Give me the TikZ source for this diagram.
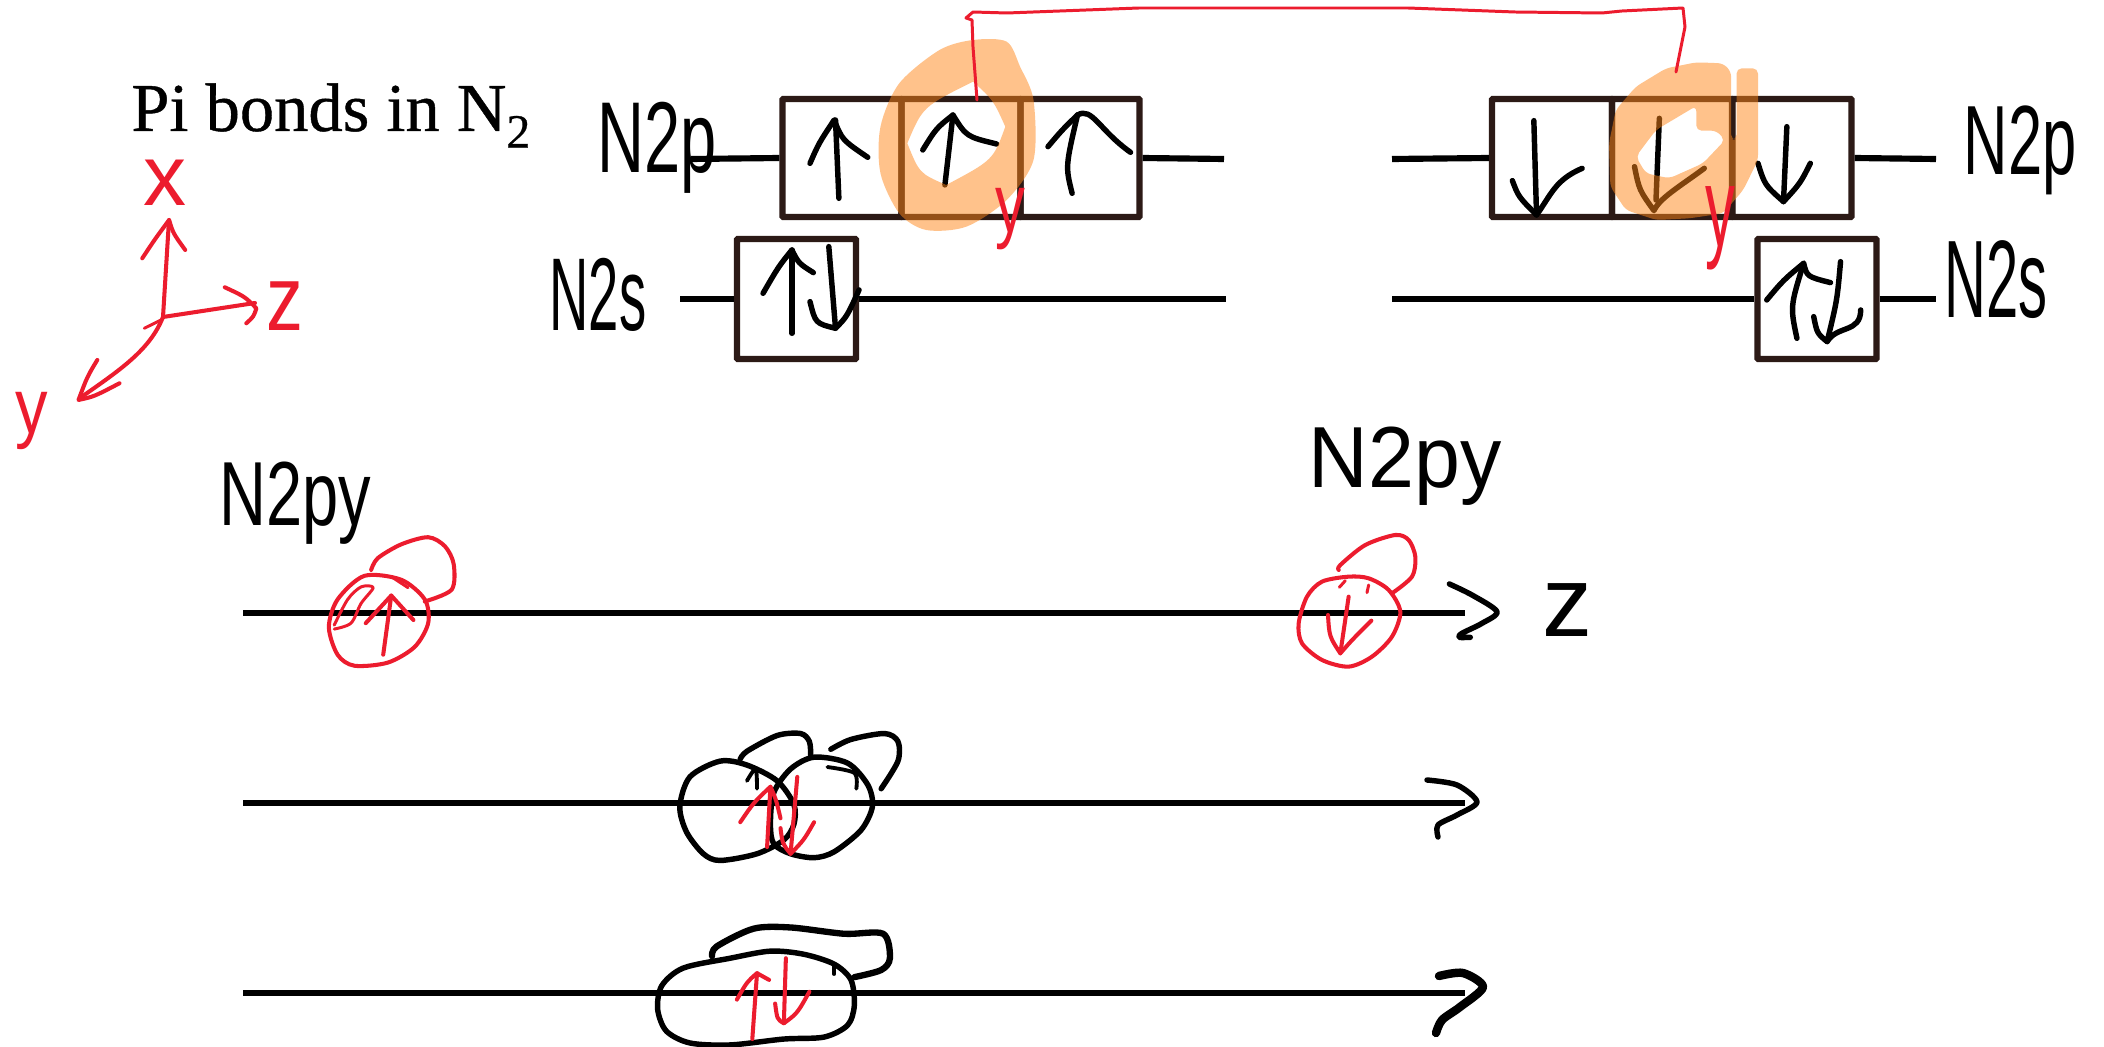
\documentclass[tikz,border=0pt]{standalone}
\usepackage{fontspec}
\setmainfont{Liberation Serif}
\newfontfamily\titlefont[FakeBold=0.6]{Liberation Serif}
\newfontfamily\handfont{Liberation Sans}
\definecolor{inkred}{HTML}{EC1C2E}
\definecolor{boxline}{HTML}{2C1A16}
\definecolor{hilite}{HTML}{FF8719}
\begin{document}
\begin{tikzpicture}[x=0.02cm,y=-0.02cm,
  orbbox/.style={draw=boxline,line width=3.6pt,rectangle,inner sep=0pt,rounded corners=0.5pt},
  level/.style={line width=3.5pt,black},
  hand/.style={line width=3.1pt,black,line cap=round,line join=round},
  handthin/.style={line width=2.2pt,black,line cap=round,line join=round},
  redthin/.style={line width=1.7pt,inkred,line cap=round,line join=round},
  redmid/.style={line width=2.3pt,inkred,line cap=round,line join=round},
  lab/.style={inner sep=0pt,font=\handfont\fontsize{#1}{#1}\selectfont},
  redlab/.style={lab=#1,text=inkred},
  zA/.style={xscale=0.6711,yscale=0.3333},
  zB/.style={shift={(1052,0)},xscale=0.6711,yscale=0.3333},
  zC/.style={shift={(200,430)},xscale=0.6711,yscale=0.3942},
  zD/.style={shift={(1252,430)},xscale=0.3333,yscale=0.3333},
  hilitefill/.style={fill=hilite,fill opacity=0.5,even odd rule},
]
\useasboundingbox (0,0) rectangle (2104,1047);
\fill[white] (0,0) rectangle (2104,1047);

% title
\node[inner sep=0pt,anchor=base west,font=\titlefont\fontsize{39}{39}\selectfont] (title) at (131,131) {Pi bonds in N\textsubscript{2}};

% level end points
\coordinate (lt1) at (691,159);
\coordinate (lt2) at (1224,159);
\coordinate (ls1) at (680,299);
\coordinate (ls2) at (1226,299);
\coordinate (rt1) at (1392,159);
\coordinate (rt2) at (1936,159);
\coordinate (rs1) at (1392,299);
\coordinate (rs2) at (1936,299);

% orbital boxes
\node[orbbox,minimum width=119*0.02cm,minimum height=118*0.02cm] (pa) at (842,158) {};
\node[orbbox,minimum width=119*0.02cm,minimum height=118*0.02cm] (pb) at (961,158) {};
\node[orbbox,minimum width=119*0.02cm,minimum height=118*0.02cm] (pc) at (1080,158) {};
\node[orbbox,minimum width=119*0.02cm,minimum height=120*0.02cm] (sa) at (796.5,299) {};
\node[orbbox,minimum width=120*0.02cm,minimum height=118*0.02cm] (qa) at (1552,158) {};
\node[orbbox,minimum width=120*0.02cm,minimum height=118*0.02cm] (qb) at (1672,158) {};
\node[orbbox,minimum width=119*0.02cm,minimum height=118*0.02cm] (qc) at (1792,158) {};
\node[orbbox,minimum width=119*0.02cm,minimum height=120*0.02cm] (sb) at (1817,299) {};

\draw[level] (lt1) -- (pa.west);
\draw[level] (pc.east) -- (lt2);
\draw[level] (ls1) -- (sa.west);
\draw[level] (sa.east) -- (ls2);
\draw[level] (rt1) -- (qa.west);
\draw[level] (qc.east) -- (rt2);
\draw[level] (rs1) -- (sb.west);
\draw[level] (sb.east) -- (rs2);

% electrons in boxes
\begin{scope}[zA]
\draw[hand] (1250,595) -- (1245,360);
\draw[hand] (1207,490) .. controls (1220,430) .. (1243,360) .. controls (1255,420) .. (1293,472);
\draw[hand] (1408,555) -- (1420,345);
\draw[hand] (1375,450) .. controls (1395,385) .. (1420,345) .. controls (1440,410) .. (1485,432);
\draw[hand] (1180,1000) -- (1180,750);
\draw[hand] (1137,880) .. controls (1160,800) .. (1180,750) .. controls (1190,790) .. (1212,818);
\draw[hand] (1235,740) -- (1245,985);
\draw[hand] (1207,905) .. controls (1215,970) .. (1245,985) .. controls (1262,950) .. (1280,870);
\end{scope}
\begin{scope}[zB]
\draw[hand] (30,580) .. controls (20,500) .. (38,345);
\draw[hand] (-6,440) .. controls (15,390) .. (38,345);
\draw[hand] (38,345) .. controls (60,320) and (70,390) .. (117,457);
\draw[hand] (718,362) -- (722,645);
\draw[hand] (686,542) .. controls (695,590) .. (722,645) .. controls (745,580) and (750,540) .. (790,505);
\draw[hand] (905,355) -- (900,600);
\draw[hand] (868,500) .. controls (875,570) .. (897,632) .. controls (905,595) and (935,560) .. (972,505);
\draw[hand] (1095,380) -- (1090,605);
\draw[hand] (1052,490) .. controls (1062,555) .. (1090,605) .. controls (1115,550) .. (1130,490);
\draw[hand] (1110,1015) .. controls (1100,920) .. (1120,790);
\draw[hand] (1065,900) .. controls (1090,840) .. (1120,790) .. controls (1125,830) .. (1160,848);
\draw[hand] (1175,785) .. controls (1170,900) .. (1155,1025) .. controls (1140,1000) .. (1135,950);
\draw[hand] (1155,1025) .. controls (1170,975) and (1205,1000) .. (1205,930);
\end{scope}

% highlights
\begin{scope}[zA]
\fill[hilitefill] plot[smooth cycle] coordinates {(1450,120) (1500,125) (1520,200) (1540,300) (1540,480) (1500,600) (1440,680) (1380,690) (1340,640) (1312,520) (1312,380) (1340,250) (1400,150)}
 (1450,245) .. controls (1480,300) .. (1498,380) .. controls (1480,480) .. (1410,555) .. controls (1370,520) .. (1352,430) .. controls (1375,320) .. (1450,245) -- cycle;
\end{scope}
\begin{scope}[zB]
\fill[hilitefill,rounded corners=3pt] (960,187) -- (1000,190) -- (1012,215) -- (1012,420) -- (1020,420) -- (1020,205) -- (1052,205) -- (1052,480) -- (1030,570) -- (1000,640) -- (950,655) -- (900,660) -- (855,630) -- (832,560) -- (830,430) -- (840,330) -- (870,260) -- (915,205) -- cycle
 (960,318) -- (960,392) -- (990,392) -- (1003,420) -- (970,490) -- (920,535) -- (885,520) -- (870,470) -- (900,390) -- cycle;
\end{scope}

% bracket joining the two highlighted orbitals
\coordinate (bl) at (977,100);
\coordinate (br) at (1676,72);
\draw[redthin] (bl) -- (973,47) -- (972,20) -- (966,18) -- (973,12) -- (1007,13) -- (1139,8) -- (1408,8) -- (1515,12) -- (1602,13) -- (1622,11) -- (1683,8) -- (1685,27) -- (br);

% level labels
\node[lab=37,yscale=1.55] (n2p1) at (657,148) {N2p};
\node[lab=31,yscale=1.9] (n2s1) at (598,295) {N2s};
\node[lab=35,yscale=1.6] (n2p2) at (2020,150) {N2p};
\node[lab=33,yscale=1.9] (n2s2) at (1996,280) {N2s};
\node[redlab=34,yscale=1.4] (yl) at (1010,219) {y};
\node[redlab=34,yscale=1.9] (yr) at (1720,228) {y};

% axes
\coordinate (o) at (163,317);
\coordinate (ax) at (169,220);
\coordinate (az) at (255,303);
\coordinate (ay) at (80,398);
\draw[redmid] (o) -- (ax);
\draw[redmid] (o) -- (az);
\draw[redmid] (o) .. controls (150,350) and (120,370) .. (ay);
\begin{scope}[zA]
\draw[redmid] (212,775) .. controls (230,720) .. (252,660) .. controls (258,700) .. (276,750);
\draw[redmid] (335,862) .. controls (365,890) .. (382,925) .. controls (378,950) .. (367,970);
\draw[redmid] (145,1080) .. controls (130,1130) .. (117,1200) .. controls (140,1190) .. (178,1150);
\draw[redthin] (215,985) -- (240,960);
\end{scope}
\node[redlab=49] (lx) at (165,183) {x};
\node[redlab=42,yscale=1.25] (lz) at (285,306) {z};
\node[redlab=37,yscale=1.2] (ly) at (32,421) {y};

% molecular axes
\coordinate (a1s) at (243,613);
\coordinate (a1e) at (1465,613);
\coordinate (a2s) at (243,803);
\coordinate (a2e) at (1465,803);
\coordinate (a3s) at (243,993);
\coordinate (a3e) at (1465,993);
\draw[level] (a1s) -- (a1e);
\draw[level] (a2s) -- (a2e);
\draw[level] (a3s) -- (a3e);

\node[lab=37,yscale=1.4] (l1) at (295,503) {N2py};
\node[lab=47,yscale=1.05] (l2) at (1405,466) {N2py};
\node[lab=57] (l3) at (1568,610) {z};

% first orbital, left
\begin{scope}[zC]
\draw[redmid] plot[smooth cycle] coordinates {(245,370) (300,380) (335,430) (340,490) (320,550) (280,590) (230,598) (205,570) (192,500) (205,430)};
\draw[redmid] plot[smooth] coordinates {(255,355) (265,325) (300,290) (340,272) (365,295) (378,340) (375,405) (335,435)};
\draw[redmid] (273,570) -- (285,420);
\draw[redmid] (247,490) -- (285,420) -- (318,482);
\draw[redthin] plot[smooth] coordinates {(200,505) (225,490) (240,440) (258,400) (240,398) (220,430) (200,495)};
\draw[redthin] (285,372) -- (310,400);
\end{scope}
% first orbital, right, and z tip
\begin{scope}[zD]
\draw[redmid] plot[smooth cycle] coordinates {(290,440) (350,445) (410,480) (445,545) (420,620) (360,680) (290,710) (210,690) (150,640) (140,580) (165,500) (210,455)};
\draw[redmid] plot[smooth] coordinates {(260,420) (265,405) (340,345) (430,315) (470,330) (490,380) (480,440) (420,490)};
\draw[redmid] (290,500) -- (265,670);
\draw[redmid] (228,555) .. controls (232,620) .. (265,670) .. controls (300,630) .. (358,572);
\draw[redthin] (262,472) -- (280,452);
\draw[redthin] (345,488) -- (350,465);
\draw[hand] plot[smooth] coordinates {(592,462) (660,495) (735,545) (690,580) (630,610) (622,622) (655,622)};
\end{scope}

% second orbital pair
\begin{scope}[zC]
\draw[hand] plot[smooth cycle] coordinates {(775,840) (815,850) (860,890) (885,950) (885,1000) (870,1040) (830,1075) (775,1092) (750,1075) (725,1020) (715,955) (730,880)};
\draw[hand] plot[smooth cycle] coordinates {(915,830) (965,845) (995,900) (1002,955) (985,1015) (945,1070) (915,1085) (880,1075) (855,1050) (850,1000) (855,920) (880,860)};
\draw[hand] plot[smooth] coordinates {(805,835) (815,815) (860,775) (895,770) (908,790) (910,825)};
\draw[hand] plot[smooth] coordinates {(940,810) (970,785) (1020,770) (1040,790) (1040,840) (1015,910)};
\draw[handthin] plot[smooth] coordinates {(935,855) (975,870) (978,910)};
\draw[handthin] plot[smooth] coordinates {(815,890) (828,860) (830,910)};
\draw[redmid] (845,1058) -- (850,905);
\draw[redmid] (805,995) .. controls (825,945) .. (850,905) .. controls (858,935) .. (865,985);
\draw[redmid] (890,880) -- (880,1075);
\draw[redmid] (865,1010) .. controls (868,1050) .. (880,1075) .. controls (900,1040) .. (915,995);
% third, merged orbital
\draw[hand] plot[smooth cycle] coordinates {(850,1322) (900,1330) (945,1355) (970,1395) (975,1460) (965,1510) (930,1540) (870,1545) (790,1560) (730,1555) (695,1525) (682,1470) (688,1410) (720,1365) (790,1340)};
\draw[hand,line width=3.6pt] plot[smooth] coordinates {(763,1335) (770,1310) (825,1265) (880,1262) (960,1278) (1018,1278) (1028,1340) (1015,1370) (975,1388)};
\draw[handthin] (945,1380) -- (945,1360);
\draw[redmid] (823,1545) -- (830,1378);
\draw[redmid] (800,1445) .. controls (815,1400) .. (830,1378) -- (848,1395);
\draw[redmid] (873,1340) -- (870,1505);
\draw[redmid] (857,1455) .. controls (860,1495) .. (870,1505) .. controls (890,1480) .. (908,1425);
\end{scope}

% axis tips
\draw[hand] plot[smooth] coordinates {(1427,780) (1457,785) (1477,802) (1457,815) (1438,825) (1438,837)};
\draw[hand,line width=4.8pt] plot[smooth] coordinates {(1439,976) (1463,973) (1483,987) (1460,1007) (1442,1020) (1436,1033)};
\end{tikzpicture}
\end{document}
